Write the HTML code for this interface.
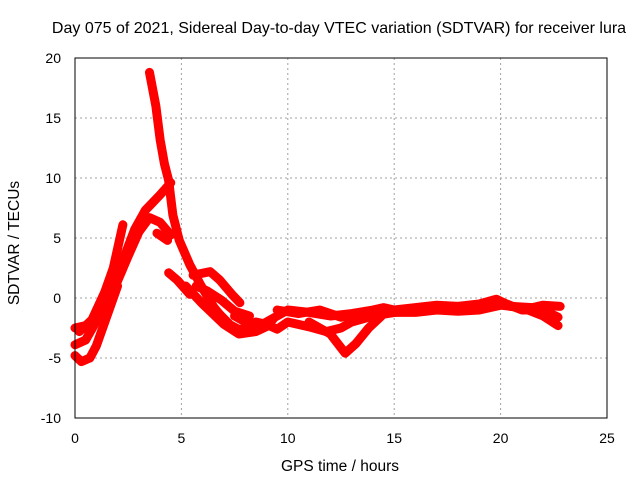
<!DOCTYPE html>
<html><head><meta charset="utf-8"><style>
body{margin:0;background:#fff}
svg text{font-family:"Liberation Sans",sans-serif;font-size:14px;fill:#000}
</style></head><body>
<svg id="c" width="640" height="480">
<text x="339" y="33" text-anchor="middle" style="font-size:16px">Day 075 of 2021, Sidereal Day-to-day VTEC variation (SDTVAR) for receiver lura</text>
<text x="340" y="471" text-anchor="middle" style="font-size:15.5px">GPS time / hours</text>
<text transform="translate(19,243) rotate(-90)" text-anchor="middle" style="font-size:15.5px">SDTVAR / TECUs</text>
<g id="grid"></g><g id="series"></g>
<rect x="75" y="58" width="532" height="360" fill="none" stroke="#000" stroke-width="1"/>
<g id="ticks"></g>
</svg>
<script>
const xTicks=[0,5,10,15,20,25];
const yTicks=[-10,-5,0,5,10,15,20];
const trackSpike=[[3.5,18.8],[3.8,16],[4.0,13.2],[4.2,11.2],[4.4,9.8],[4.6,6.9],[4.9,4.8],[5.4,2.75],[5.9,1.1],[6.6,-1],[7.3,-2.25],[8.0,-2.9],[8.7,-2.25],[9.3,-1.8]];
const trackRise=[[0,-3.9],[0.5,-3.5],[0.9,-2.25],[1.4,-0.2],[1.9,1.5],[2.35,3.6],[2.8,5.7],[3.3,7.3],[4.0,8.6],[4.5,9.6]];
const trackArc=[[1.2,-1.5],[1.9,1.0],[2.5,3.5],[3.0,5.5],[3.5,6.7],[4.0,6.3],[4.5,5.25]];
const trackShort=[[3.85,5.4],[4.35,4.8]];
const trackTall=[[0.2,-2.8],[0.8,-1.8],[1.4,0.5],[1.8,2.5],[2.25,6.1]];
const trackF=[[4.4,2.1],[4.8,1.5],[5.2,0.7],[5.4,0.3]];
const trackG=[[5.55,1.9],[6.35,2.2],[6.8,1.5],[7.4,0.25],[7.75,-0.4]];
const trackH=[[5.7,1.0],[6.2,0.6],[6.9,-0.2],[7.5,-1.1],[8.2,-1.5]];
const trackLow1=[[7.5,-1.5],[8.5,-2.5],[9.5,-1.5],[10,-1],[11,-1.2],[12,-1.5],[13,-1.3],[14,-1.0],[14.5,-0.8],[15,-1.0],[16,-0.8],[17,-0.6],[18,-0.7],[19,-0.5],[19.8,-0.1],[20.5,-0.7],[21.5,-0.8],[22,-0.6],[22.8,-0.7]];
const trackLow2=[[6.4,-0.5],[7,-1.8],[7.5,-2.6],[8,-2.6],[8.5,-2.0],[9,-2.2],[9.5,-2.6],[10,-2.0],[11,-2.4],[11.8,-2.8],[12.5,-2.5],[13,-2.0],[14,-1.5],[15,-1.2],[16,-1.2],[17,-1.0],[18,-1.1],[19,-1.0],[20,-0.6],[21,-0.8],[22,-1.5],[22.7,-2.3]];
const trackDip=[[11,-2.0],[12,-3.0],[12.7,-4.6],[13.2,-3.8],[13.8,-2.5],[14.4,-1.5]];
const trackEarly=[[5.2,1.0],[6,-0.5],[7,-2.2],[7.7,-3.0],[8.5,-2.8],[9.1,-2.3]];
const trackStart1=[[0,-4.8],[0.3,-5.3],[0.7,-5.0],[1.0,-4.0],[1.3,-2.5],[1.6,-1.0],[2,1.0]];
const trackStart2=[[0,-2.5],[0.5,-2.3],[1,-2.0],[1.5,-0.5]];
const trackMid=[[9.5,-1.0],[10.5,-1.3],[11.5,-1.0],[12.5,-1.6],[13.5,-1.2],[14.5,-1.3],[16,-1.0],[17.5,-0.9],[19,-0.8],[20,-0.3],[21,-1.0],[22,-1.0],[22.7,-1.6]];
const tracks=[trackSpike,trackRise,trackArc,trackShort,trackTall,trackF,trackG,trackH,trackLow1,trackLow2,trackDip,trackEarly,trackStart1,trackStart2,trackMid];
const X=v=>75+v*532/25, Y=v=>298-v*12;
const NS='http://www.w3.org/2000/svg';
const grid=document.getElementById('grid'),tk=document.getElementById('ticks'),ser=document.getElementById('series');
function mk(tag,at,p){const e=document.createElementNS(NS,tag);for(const k in at)e.setAttribute(k,at[k]);p.appendChild(e);return e;}
xTicks.forEach(t=>{
 if(t>0&&t<25){const g=mk('line',{x1:X(t),x2:X(t),y1:58,y2:418,stroke:'#a0a0a0','stroke-dasharray':'2,3'},grid);
 
 }
 const l=mk('text',{x:X(t),y:443,'text-anchor':'middle'},tk);l.textContent=t;
 
 
});
yTicks.forEach(t=>{
 if(t>-10&&t<20){const g=mk('line',{x1:75,x2:607,y1:Y(t),y2:Y(t),stroke:'#a0a0a0','stroke-dasharray':'2,3'},grid);
 
 }
 const l=mk('text',{x:61,y:Y(t)+5,'text-anchor':'end'},tk);l.textContent=t;
 
 
});
tracks.forEach(tr=>{
 const p=mk('polyline',{points:tr.map(d=>X(d[0])+','+Y(d[1])).join(' '),fill:'none',stroke:'#ff0000','stroke-width':9,'stroke-linejoin':'round','stroke-linecap':'round'},ser);
 
 
});
</script>
</body></html>
